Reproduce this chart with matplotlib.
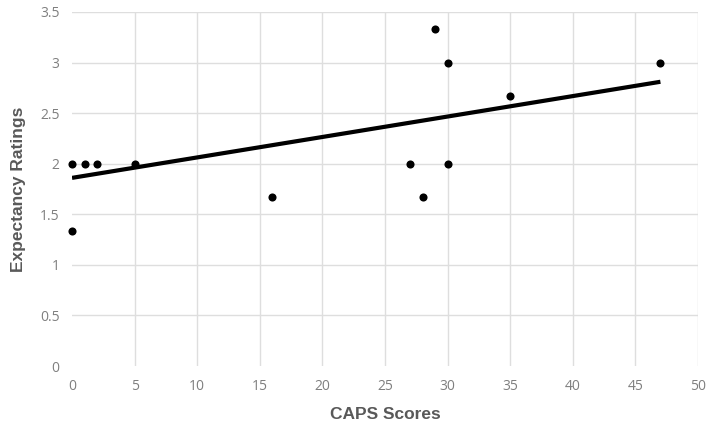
import matplotlib
matplotlib.use("Agg")
import matplotlib.pyplot as plt
import numpy as np

caps_scores = [0, 1, 2, 5, 0, 16, 27, 28, 29, 30, 30, 35, 47]
expectancy = [2, 2, 2, 2, 1.333, 1.667, 2, 1.667, 3.333, 3, 2, 2.667, 3]
trend_x = [0, 47]
trend_y = [1.86, 2.81]
x_ticks = [0, 5, 10, 15, 20, 25, 30, 35, 40, 45, 50]
y_ticks = [0, 0.5, 1, 1.5, 2, 2.5, 3, 3.5]

plt.rcParams['font.family'] = ['Open Sans', 'DejaVu Sans']

fig = plt.figure(figsize=(7.18, 4.25), dpi=100)
ax = fig.add_axes([0.1003, 0.1388, 0.8718, 0.833])

ax.plot(trend_x, trend_y, color='black', lw=3.0, solid_capstyle='butt', zorder=3)
ax.scatter(caps_scores, expectancy, s=34, color='black', zorder=4, linewidths=0, clip_on=False)

ax.set_xlim(0, 50)
ax.set_ylim(0, 3.5)
ax.set_xticks(x_ticks)
ax.set_yticks(y_ticks)
ax.set_xticklabels([str(t) for t in x_ticks])
ax.set_yticklabels([f"{t:g}" for t in y_ticks])
ax.grid(True, color='#dedede', lw=1.0, zorder=0)
ax.set_axisbelow(True)
for s in ax.spines.values():
    s.set_visible(False)
ax.tick_params(length=0, labelsize=10, labelcolor='#7f7f7f', pad=9)
ax.xaxis.get_gridlines()[0].set_visible(False)
ax.yaxis.get_gridlines()[0].set_visible(False)

ax.set_xlabel("CAPS Scores", fontsize=12.5, fontweight='bold', color='#595959',
              labelpad=10, family=['Liberation Sans', 'DejaVu Sans'])
ax.set_ylabel("Expectancy Ratings", fontsize=12.5, fontweight='bold', color='#595959',
              labelpad=10, family=['Liberation Sans', 'DejaVu Sans'])

fig.savefig("out.png", dpi=100)
